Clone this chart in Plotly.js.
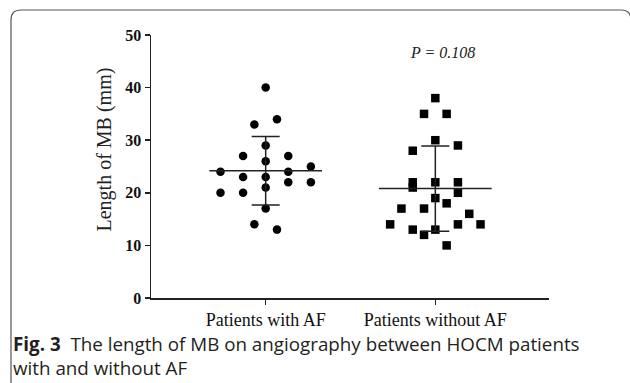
<!DOCTYPE html>
<html>
<head>
<meta charset="utf-8">
<script src="https://cdn.plot.ly/plotly-3.0.1.min.js"></script>
<style>html,body{margin:0;padding:0;background:#fff;}#chart{width:630px;height:383px;}</style>
</head>
<body>
<div id="chart"></div>
<script>
// ---- data ----
var categories = ["Patients with AF", "Patients without AF"];
var afValues   = [40, 33, 34, 29, 27, 27, 26, 24, 25, 24, 23, 23, 22, 22, 21, 20, 20, 17, 14, 13];
var afSlots    = [ 0, -1,  1,  0, -2,  2,  0, -4,  4,  2, -2,  0,  2,  4,  0, -4, -2,  0, -1,  1];
var noAfValues = [38, 35, 35, 30, 28, 29, 22, 22, 22, 21, 20, 19, 18, 17, 17, 16, 14, 14, 14, 13, 13, 12, 10];
var noAfSlots  = [ 0, -1,  1,  0, -2,  2, -2,  0,  2, -2,  2,  0,  1, -3, -1,  3, -4,  2,  4, -2,  0, -1,  1];
var groupMeans = [24.2, 20.8];
var groupSDs   = [6.5, 8.1];
var pText = "P = 0.108";
var yTicks = [0, 10, 20, 30, 40, 50];
var yTitle = "Length of MB (mm)";
var captionLabel = "Fig. 3";
var captionLines = ["The length of MB on angiography between HOCM patients", "with and without AF"];

// ---- layout helpers ----
var L = 151, R = 549, T = 35, B = 298, W = 630, H = 383;
function px(x){ return (x - L) / (R - L); }
function py(y){ return (B - y) / (B - T); }
var slotStep = 0.0666;
var meanHalf = 0.332;

function xs(center, slots){ return slots.map(function(s){ return center + s * slotStep; }); }

var serif = "Liberation Serif, Times New Roman, serif";
var sans = "Open Sans, Noto Sans, sans-serif";

var traces = [
  {type:"scatter", mode:"markers", x: xs(0, afSlots), y: afValues,
   marker:{symbol:"circle", size:8.5, color:"#000"}, hoverinfo:"y", showlegend:false},
  {type:"scatter", mode:"markers", x: xs(1, noAfSlots), y: noAfValues,
   marker:{symbol:"square", size:8.5, color:"#000"}, hoverinfo:"y", showlegend:false},
  {type:"scatter", mode:"lines",
   x:[0 - meanHalf, 0 + meanHalf, null, 1 - meanHalf, 1 + meanHalf],
   y:[groupMeans[0], groupMeans[0], null, groupMeans[1], groupMeans[1]],
   line:{color:"#222", width:1.5}, hoverinfo:"skip", showlegend:false},
  {type:"scatter", mode:"markers", x:[0, 1], y: groupMeans,
   marker:{size:1, color:"rgba(0,0,0,0)"},
   error_y:{type:"data", array: groupSDs, visible:true, color:"#222", thickness:1.5, width:14},
   hoverinfo:"skip", showlegend:false}
];

var layout = {
  width: W, height: H,
  margin:{l:L, r:W - R, t:T, b:H - B, pad:0},
  paper_bgcolor:"#fff", plot_bgcolor:"#fff",
  showlegend:false,
  xaxis:{
    range:[-0.676, 1.670], tickvals:[0, 1], ticktext: categories,
    showgrid:false, zeroline:false, showline:true, linecolor:"#222", linewidth:1.5,
    ticks:"outside", ticklen:5, tickwidth:1.5, tickcolor:"#222",
    tickfont:{family: serif, size:18, color:"#111"}
  },
  yaxis:{
    range:[0, 50], tickvals: yTicks,
    showgrid:false, zeroline:false, showline:true, linecolor:"#222", linewidth:1.5,
    ticks:"outside", ticklen:5, tickwidth:1.5, tickcolor:"#222",
    tickfont:{family: serif, size:16, color:"#111", weight:"bold"}
  },
  annotations:[
    {xref:"paper", yref:"paper", x:px(103.5), y:py(150), xanchor:"center", yanchor:"middle",
     textangle:-90, text: yTitle, showarrow:false,
     font:{family: serif, size:20, color:"#222"}},
    {xref:"x", yref:"y", x:1.04, y:46.6, text:"<i>" + pText + "</i>", showarrow:false,
     font:{family: serif, size:16, color:"#222"}},
    {xref:"paper", yref:"paper", x:px(12), y:py(356), xanchor:"left", yanchor:"middle", align:"left",
     borderpad:0,
     text:"<b>" + captionLabel + "</b>  " + captionLines[0] + "<br>" + captionLines[1], showarrow:false,
     font:{family: sans, size:18.8, color:"#231f20"}}
  ],
  shapes:[
    {type:"path", xref:"paper", yref:"paper", layer:"above",
     path:"M " + px(11) + "," + py(395) + " L " + px(11) + "," + py(20) +
          " Q " + px(11) + "," + py(10) + " " + px(21) + "," + py(10) +
          " L " + px(621) + "," + py(10) +
          " Q " + px(631) + "," + py(10) + " " + px(631) + "," + py(20) +
          " L " + px(631) + "," + py(395),
     line:{color:"#555", width:1.2}}
  ]
};

Plotly.newPlot("chart", traces, layout, {staticPlot:true, displayModeBar:false});
</script>
</body>
</html>
